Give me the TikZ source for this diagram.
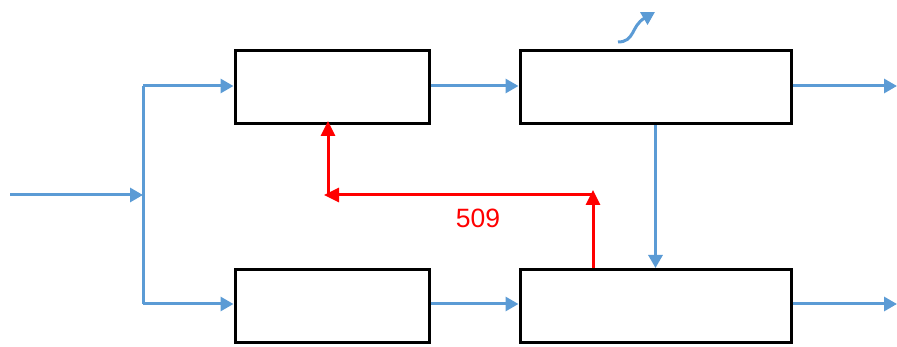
\documentclass[tikz,border=0pt]{standalone}
\usepackage{fontspec}
\setmainfont{Liberation Sans}
\usetikzlibrary{arrows.meta}
\definecolor{flowblue}{HTML}{5B9BD5}
\begin{document}
\begin{tikzpicture}[x=1pt,y=-1pt,
  blockbox/.style={draw=black,line width=3pt,minimum height=73pt,inner sep=0pt},
  flow/.style={draw=flowblue,line width=3pt,-{Triangle[length=13pt,width=14pt]}},
  flowline/.style={draw=flowblue,line width=3pt},
  fb/.style={draw=red,line width=3pt,-{Triangle[length=15pt,width=14pt]}},
  lbl/.style={text=red,inner sep=0pt,font=\fontsize{26.5}{28}\selectfont}]
\useasboundingbox (0,0) rectangle (897,347);
\node[blockbox,minimum width=194pt] (A) at (332,87.5) {};
\node[blockbox,minimum width=271pt] (B) at (655.5,87.5) {};
\node[blockbox,minimum width=194pt] (C) at (332,306) {};
\node[blockbox,minimum width=271pt] (D) at (655.5,306) {};
\coordinate (in) at (10,195);
\coordinate (j) at (143,195);
\coordinate (jt) at (143,86);
\coordinate (jb) at (143,304);
\coordinate (outB) at (897,86);
\coordinate (outD) at (897,304);
\coordinate (cs) at (618,42);
\coordinate (ce) at (655,12);
\draw[flow] (in) -- (j);
\draw[flowline] (jt) -- (jb);
\draw[flow] (jt) -- (jt -| A.west);
\draw[flow] (jb) -- (jb -| C.west);
\draw[flow] (A.east |- jt) -- (B.west |- jt);
\draw[flow] (C.east |- jb) -- (D.west |- jb);
\draw[flow] (B.east |- jt) -- (outB);
\draw[flow] (D.east |- jb) -- (outD);
\draw[flow] (B.south) -- (D.north);
\draw[flow] (cs) .. controls (635,42) and (631,26) .. (ce);
\coordinate (r1) at (593,268);
\coordinate (r2) at (593,190);
\coordinate (r3) at (593,195);
\coordinate (r4) at (324,195);
\coordinate (r5) at (328,195);
\coordinate (r6) at (328,121);
\draw[fb] (r1) -- (r2);
\draw[fb] (r3) -- (r4);
\draw[fb] (r5) -- (r6);
\node[lbl] (n509) at (478,218) {509};
\end{tikzpicture}
\end{document}
